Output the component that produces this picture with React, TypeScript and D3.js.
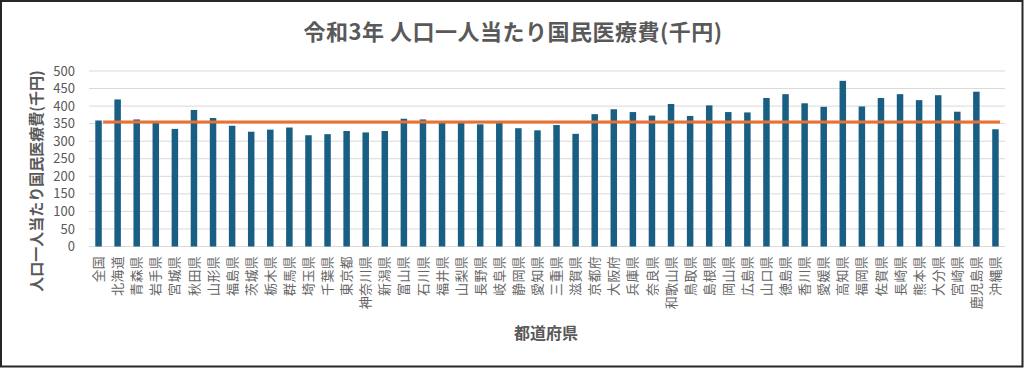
import React from "react";
import * as d3 from "d3";

const categories: string[] = [
  "全国", "北海道", "青森県", "岩手県", "宮城県", "秋田県", "山形県", "福島県",
  "茨城県", "栃木県", "群馬県", "埼玉県", "千葉県", "東京都", "神奈川県", "新潟県",
  "富山県", "石川県", "福井県", "山梨県", "長野県", "岐阜県", "静岡県", "愛知県",
  "三重県", "滋賀県", "京都府", "大阪府", "兵庫県", "奈良県", "和歌山県", "鳥取県",
  "島根県", "岡山県", "広島県", "山口県", "徳島県", "香川県", "愛媛県", "高知県",
  "福岡県", "佐賀県", "長崎県", "熊本県", "大分県", "宮崎県", "鹿児島県", "沖縄県",
];

const values: number[] = [
  359, 419, 362, 352, 335, 389, 366, 344,
  327, 333, 339, 317, 320, 329, 325, 329,
  364, 362, 354, 353, 348, 354, 337, 331,
  346, 321, 377, 391, 383, 373, 406, 372,
  402, 383, 382, 423, 434, 408, 398, 472,
  399, 423, 434, 417, 431, 384, 441, 334,
];

const nationalAverage: number = 355;
const yTicks: number[] = [0, 50, 100, 150, 200, 250, 300, 350, 400, 450, 500];

const title = "令和3年 人口一人当たり国民医療費(千円)";
const yTitle = "人口一人当たり国民医療費(千円)";
const xTitle = "都道府県";

const W = 1024;
const H = 368;
const FONT = "'Noto Sans CJK JP', 'Noto Sans', sans-serif";
const TEXT = "#595959";

export default function App() {
  const x = d3.scaleBand<string>().domain(categories).range([89, 1005]).paddingInner(0.66).paddingOuter(0.33);
  const y = d3.scaleLinear().domain([0, 500]).range([246.5, 71]);
  const step = x.step();
  const bw = x.bandwidth();
  const cx = (c: string) => (x(c) as number) + bw / 2;
  const lineOffset = step * 0.24;
  const avgLine = d3.line<string>()
    .x((c) => cx(c) + lineOffset)
    .y(() => y(nationalAverage));
  const ends = [categories[0], categories[categories.length - 1]];

  return (
    <div style={{ position: "fixed", left: 0, top: 0 }}>
      <svg width={W} height={H} style={{ display: "block", fontFamily: FONT }}>
        <rect x={1} y={1} width={W - 2.5} height={H - 2.5} fill="#fff" stroke="#262626" strokeWidth={2} />
        <text x={513} y={40} textAnchor="middle" fontSize={22} fontWeight="bold" fill={TEXT} letterSpacing={0.5}>
          {title}
        </text>
        {yTicks.map((t) => (
          <g key={t}>
            <line x1={89} x2={1005} y1={y(t)} y2={y(t)} stroke="#d9d9d9" strokeWidth={1} />
            <text x={75} y={y(t)} dy="0.35em" textAnchor="end" fontSize={13} fill={TEXT}>
              {t}
            </text>
          </g>
        ))}
        {categories.map((c, i) => (
          <rect key={c} x={x(c)} y={y(values[i])} width={bw} height={y(0) - y(values[i])} fill="#195e83" />
        ))}
        <path d={avgLine(ends) || ""} stroke="#E97132" strokeWidth={3} fill="none" />
        {categories.map((c) => (
          <text
            key={"l" + c}
            transform={`translate(${cx(c)},256) rotate(-90)`}
            textAnchor="end"
            dy="0.35em"
            fontSize={13}
            letterSpacing={0.3}
            fill="#666666"
          >
            {c}
          </text>
        ))}
        <text x={546} y={339} textAnchor="middle" fontSize={16} fontWeight="bold" fill={TEXT}>
          {xTitle}
        </text>
        <text
          transform={`translate(37,181) rotate(-90)`}
          textAnchor="middle"
          dy="0.35em"
          fontSize={15}
          fontWeight="bold"
          fill={TEXT}
        >
          {yTitle}
        </text>
      </svg>
    </div>
  );
}
